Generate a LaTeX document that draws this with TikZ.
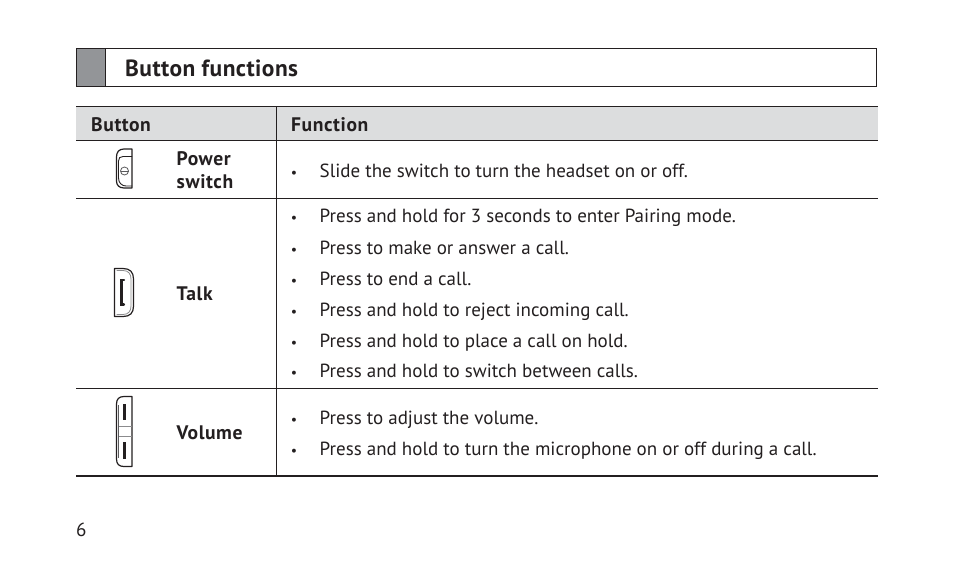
\documentclass[tikz,border=0pt]{standalone}
\usepackage{fontspec}
\setmainfont{PT Sans}
\newfontfamily\bodyfont{PT Sans}
\newfontfamily\boldfont[LetterSpace=3]{PT Sans Bold}
\newfontfamily\titlefont[LetterSpace=2]{PT Sans Bold}
\definecolor{ink}{RGB}{35,31,32}
\definecolor{headgrey}{RGB}{220,221,222}
\definecolor{tabgrey}{RGB}{147,149,152}
\definecolor{iconline}{RGB}{90,90,92}
\tikzset{
  x=1pt,y=-1pt,
  body/.style={anchor=base west,inner sep=0pt,text=ink,font=\bodyfont\fontsize{19}{22}\selectfont},
  bul/.style={anchor=base,inner sep=0pt,text=ink,font=\bodyfont\fontsize{14}{22}\selectfont},
  label/.style={anchor=base west,inner sep=0pt,text=ink,font=\boldfont\fontsize{19.6}{22}\selectfont},
  title/.style={anchor=base west,inner sep=0pt,text=ink,font=\titlefont\fontsize{23.4}{26}\selectfont},
  rule/.style={draw=ink,line width=1pt},
  iconout/.style={draw=ink,line width=1.2pt,line join=round},
  iconin/.style={draw=iconline,line width=.8pt},
  iconfaint/.style={draw=iconline!70,line width=.8pt},
  iconmark/.style={draw=ink,line width=2.2pt},
}
\begin{document}
\begin{tikzpicture}
\useasboundingbox (0,0) rectangle (954,573);
\fill[white] (0,0) rectangle (954,573);
% title bar
\fill[tabgrey] (76.5,48.5) rectangle (105.5,86.5);
\draw[rule] (76.5,48.5) rectangle (876.5,86.5);
\draw[rule] (105.5,48.5) -- (105.5,86.5);
\node[title] (ttl) at (125,76.5) {Button functions};
% table header
\fill[headgrey] (76,106.5) rectangle (878,140.5);
\draw[rule] (76,106.5) -- (878,106.5);
\draw[rule] (76,140.5) -- (878,140.5);
\draw[rule] (76,198.5) -- (878,198.5);
\draw[rule] (76,388.5) -- (878,388.5);
\draw[draw=ink,line width=1.6pt] (76,476) -- (878,476);
\draw[rule] (276.5,106.5) -- (276.5,476);
\node[label] (hb) at (91,131) {Button};
\node[label] (hf) at (291,131) {Function};
% labels
\node[label] (p1) at (176.5,165) {Power};
\node[label] (p2) at (176.5,188) {switch};
\node[label] (tk) at (176.5,300) {Talk};
\node[label] (vo) at (176.5,439) {Volume};
% bullets and rows
\foreach \n/\y/\t in {
 a/177/{Slide the switch to turn the headset on or off.},
 b/222/{Press and hold for 3 seconds to enter Pairing mode.},
 c/254/{Press to make or answer a call.},
 d/285/{Press to end a call.},
 e/316/{Press and hold to reject incoming call.},
 f/347/{Press and hold to place a call on hold.},
 g/377/{Press and hold to switch between calls.},
 h/424/{Press to adjust the volume.},
 i/455/{Press and hold to turn the microphone on or off during a call.}}{
  \node[bul] (b\n) at (294,\y) {•};
  \node[body] (t\n) at (319.5,\y) {\t};
}
\node[body] (pg) at (76,536) {6};
% power icon
\draw[iconout] (132,149) -- (124,149) .. controls (119,149) and (116.5,152) .. (116.5,157) -- (116.5,181) .. controls (116.5,185) and (119,188) .. (124,188) -- (132,188) -- cycle;
\draw[iconout,line width=.9pt] (132,156.5) -- (123,156.5) .. controls (120,156.5) and (118.5,158) .. (118.5,161) -- (118.5,178) .. controls (118.5,183) and (122,186) .. (126,186) -- (132,186);
\draw[iconin] (124.5,171) circle (4);
\draw[iconin] (120.5,171) -- (128.5,171);
% talk icon
\draw[iconout] (114.5,268.5) -- (123,268.5) .. controls (130,268.5) and (133.5,272) .. (133.5,279) -- (133.5,306) .. controls (133.5,313) and (130,316.5) .. (123,316.5) -- (114.5,316.5) -- cycle;
\draw[iconfaint] (116.5,270.5) -- (123,270.5) .. controls (128.5,270.5) and (131,274) .. (131,279) -- (131,306) .. controls (131,311) and (128.5,314.5) .. (123,314.5) -- (116.5,314.5);
\draw[iconmark,line cap=round] (124,280) -- (121.5,280) -- (121.5,304.5) -- (124,304.5);
% volume icon
\draw[iconout] (132,396.5) -- (124,396.5) .. controls (119,396.5) and (116.5,399) .. (116.5,404) -- (116.5,459) .. controls (116.5,464) and (119,466.5) .. (124,466.5) -- (132,466.5) -- cycle;
\draw[iconfaint] (118.5,426.5) -- (132,426.5);
\draw[iconfaint] (118.5,436.5) -- (132,436.5);
\draw[iconin] (118.5,405) -- (118.5,458);
\draw[iconmark] (124.5,404) -- (124.5,420);
\draw[iconmark] (124.5,442) -- (124.5,459);
\end{tikzpicture}
\end{document}
